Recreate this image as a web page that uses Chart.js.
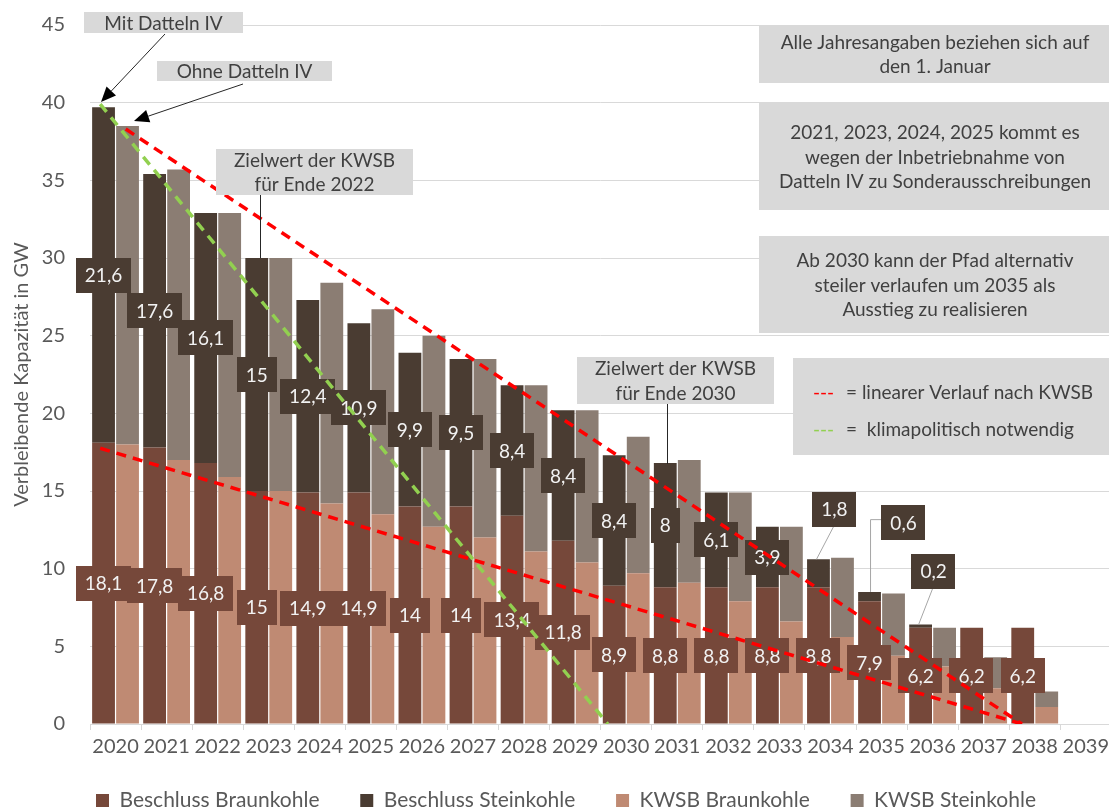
<!DOCTYPE html>
<html>
<head>
<meta charset="utf-8">
<script src="https://cdn.jsdelivr.net/npm/chart.js@4.4.1/dist/chart.umd.min.js"></script>
<style>
    html, body { margin: 0; padding: 0; background: #fff; overflow: hidden; }
    #wrap { position: relative; width: 1114px; height: 821px; }
</style>
</head>
<body>
<div id="wrap"><canvas id="chart"></canvas></div>
<script>
// Jahre (Stand jeweils 1. Januar)
var years = ['2020', '2021', '2022', '2023', '2024', '2025', '2026', '2027', '2028', '2029',
             '2030', '2031', '2032', '2033', '2034', '2035', '2036', '2037', '2038', '2039'];

// Kohleausstiegsgesetz (Beschluss), GW
var beschlussBraun = [18.1, 17.8, 16.8, 15, 14.9, 14.9, 14, 14, 13.4, 11.8,
                      8.9, 8.8, 8.8, 8.8, 8.8, 7.9, 6.2, 6.2, 6.2, 0];
var beschlussStein = [21.6, 17.6, 16.1, 15, 12.4, 10.9, 9.9, 9.5, 8.4, 8.4,
                      8.4, 8, 6.1, 3.9, 1.8, 0.6, 0.2, 0, 0, 0];

// Empfehlung der Kohlekommission (KWSB), GW
var kwsbBraun = [18.0, 17.0, 15.9, 15.0, 14.2, 13.5, 12.7, 12.0, 11.1, 10.4,
                 9.7, 9.1, 7.9, 6.6, 5.6, 4.4, 3.7, 2.3, 1.1, 0];
var kwsbStein = [20.5, 18.7, 17.0, 15.0, 14.2, 13.2, 12.3, 11.5, 10.7, 9.8,
                 8.8, 7.9, 7.0, 6.1, 5.1, 4.0, 2.5, 2.0, 1.0, 0];

// Pfade (Jahr, GW)
var kwsbPathTotal = [{x: 2020.2, y: 38.3}, {x: 2037.75, y: 0}];
var kwsbPathBraun = [{x: 2019.7, y: 17.75}, {x: 2037.75, y: 0}];
var climatePath = [{x: 2019.7, y: 39.9}, {x: 2029.64, y: 0}];

var labelBoxColor = ['#76483a', '#4a3c32'];
// Beschriftungen, die neben den Balken stehen (Index -> Versatz in px)
var callouts = {
    14: {dx: 16, dy: -64},
    15: {dx: 34, dy: -74, elbow: true},
    16: {dx: 13, dy: -55}
};

var notes = [
    {x: 84, y: 12, w: 159, h: 21, lines: ['Mit Datteln IV']},
    {x: 157, y: 61, w: 175, h: 20, lines: ['Ohne Datteln IV']},
    {x: 216, y: 149, w: 197, h: 46, lines: ['Zielwert der KWSB', 'für Ende 2022']},
    {x: 577, y: 357, w: 197, h: 47, lines: ['Zielwert der KWSB', 'für Ende 2030']},
    {x: 759, y: 25, w: 352, h: 58, lines: ['Alle Jahresangaben beziehen sich auf', 'den 1. Januar']},
    {x: 759, y: 103, w: 352, h: 107, lines: ['2021, 2023, 2024, 2025 kommt es', 'wegen der Inbetriebnahme von', 'Datteln IV zu Sonderausschreibungen']},
    {x: 759, y: 236, w: 352, h: 97, lines: ['Ab 2030 kann der Pfad alternativ', 'steiler verlaufen um 2035 als', 'Ausstieg zu realisieren']},
    {x: 793, y: 358, w: 320, h: 97, lines: []}
];

function fmt(v) {
    return String(v).replace('.', ',');
}

function drawBarLabels(chart) {
    var ctx = chart.ctx;
    ctx.save();
    ctx.font = '19px Lato';
    ctx.textAlign = 'center';
    ctx.textBaseline = 'middle';
    [0, 1].forEach(function (di) {
        var meta = chart.getDatasetMeta(di);
        var values = chart.data.datasets[di].data;
        meta.data.forEach(function (bar, i) {
            var v = values[i];
            if (!v) return;
            var cx = bar.x, cy = (bar.y + bar.base) / 2;
            var text = fmt(v);
            var w = ctx.measureText(text).width + 18, h = 35;
            var lx = cx, ly = cy;
            var c = di === 1 ? callouts[i] : null;
            if (c) {
                lx += c.dx;
                ly += c.dy;
                ctx.strokeStyle = '#a6a6a6';
                ctx.lineWidth = 1;
                ctx.beginPath();
                if (c.elbow) {
                    ctx.moveTo(lx - w / 2, ly - 3);
                    ctx.lineTo(cx + 1, ly - 3);
                    ctx.lineTo(cx + 1, bar.y);
                } else {
                    ctx.moveTo(lx - 1, ly + h / 2);
                    ctx.lineTo(cx - 2, bar.y);
                }
                ctx.stroke();
            }
            ctx.fillStyle = labelBoxColor[di];
            ctx.fillRect(Math.round(lx - w / 2), Math.round(ly - h / 2), Math.round(w), h);
            ctx.fillStyle = '#f2f2f2';
            ctx.fillText(text, lx, ly + 1);
        });
    });
    ctx.restore();
}

function arrow(ctx, x1, y1, x2, y2) {
    var a = Math.atan2(y2 - y1, x2 - x1);
    var len = 15, half = 6.5;
    var bx = x2 - len * Math.cos(a), by = y2 - len * Math.sin(a);
    ctx.beginPath();
    ctx.moveTo(x1, y1);
    ctx.lineTo(bx, by);
    ctx.stroke();
    ctx.beginPath();
    ctx.moveTo(x2, y2);
    ctx.lineTo(bx + half * Math.sin(a), by - half * Math.cos(a));
    ctx.lineTo(bx - half * Math.sin(a), by + half * Math.cos(a));
    ctx.closePath();
    ctx.fill();
}

var labelPlugin = {
    id: 'barLabels',
    beforeDatasetsDraw: function (chart) {
        chart.$labelsDrawn = false;
    },
    beforeDatasetDraw: function (chart, args) {
        // Beschriftungen nach den Balken, aber unter den Pfadlinien
        if (args.meta.type !== 'line' || chart.$labelsDrawn) return;
        chart.$labelsDrawn = true;
        drawBarLabels(chart);
    }
};

var notesPlugin = {
    id: 'notes',
    afterDraw: function (chart) {
        var ctx = chart.ctx;
        ctx.save();
        ctx.font = '19px Lato';
        ctx.textAlign = 'center';
        ctx.textBaseline = 'middle';
        notes.forEach(function (n) {
            ctx.fillStyle = '#d9d9d9';
            ctx.fillRect(n.x, n.y, n.w, n.h);
            ctx.fillStyle = '#404040';
            var lh = 24.5;
            var y0 = n.y + n.h / 2 + 1 - (n.lines.length - 1) * lh / 2;
            n.lines.forEach(function (t, k) {
                ctx.fillText(t, n.x + n.w / 2, y0 + k * lh);
            });
        });

        // Legende der Pfade
        ctx.textAlign = 'left';
        ctx.fillStyle = '#ff0000';
        ctx.fillText('---', 813, 393);
        ctx.fillStyle = '#92d050';
        ctx.fillText('---', 813, 430);
        ctx.fillStyle = '#404040';
        ctx.fillText('= linearer Verlauf nach KWSB', 846, 393);
        ctx.fillText('=  klimapolitisch notwendig', 846, 430);

        // Pfeile und Hinweislinien
        ctx.strokeStyle = '#262626';
        ctx.fillStyle = '#000';
        ctx.lineWidth = 1;
        arrow(ctx, 165, 34, 101, 102);
        arrow(ctx, 243, 84, 134, 121);
        ctx.beginPath();
        ctx.moveTo(260.5, 195);
        ctx.lineTo(260.5, 258);
        ctx.moveTo(667.5, 404);
        ctx.lineTo(667.5, 464);
        ctx.stroke();
        ctx.restore();
    }
};

Chart.defaults.font.family = 'Lato';
Chart.defaults.font.size = 20;
Chart.defaults.color = '#595959';

function pathLine(label, data, color) {
    return {
        type: 'line',
        label: label,
        data: data,
        yAxisID: 'yl',
        borderColor: color,
        borderWidth: 3.5,
        borderDash: [10, 7],
        pointRadius: 0,
        fill: false,
        order: 0
    };
}

function barSet(label, data, color, stack) {
    return {
        label: label,
        data: data,
        backgroundColor: color,
        borderWidth: 0,
        stack: stack,
        order: 1,
        categoryPercentage: 0.94,
        barPercentage: 0.95
    };
}

new Chart(document.getElementById('chart'), {
    type: 'bar',
    data: {
        labels: years,
        datasets: [
            barSet('Beschluss Braunkohle', beschlussBraun, '#76483a', 'beschluss'),
            barSet('Beschluss Steinkohle', beschlussStein, '#4a3c32', 'beschluss'),
            barSet('KWSB Braunkohle', kwsbBraun, '#bf8a73', 'kwsb'),
            barSet('KWSB Steinkohle', kwsbStein, '#8b7d73', 'kwsb'),
            pathLine('linearer Verlauf nach KWSB', kwsbPathTotal, '#ff0000'),
            pathLine('linearer Verlauf nach KWSB (Braunkohle)', kwsbPathBraun, '#ff0000'),
            pathLine('klimapolitisch notwendig', climatePath, '#92d050')
        ]
    },
    options: {
        responsive: true,
        maintainAspectRatio: false,
        animation: false,
        layout: { padding: { left: 18, top: 25, right: 0, bottom: 0 } },
        scales: {
            x: {
                type: 'linear',
                stacked: true,
                min: 2019.5,
                max: 2039.5,
                offset: false,
                grid: { drawOnChartArea: false, offset: true, color: '#d9d9d9', tickLength: 6 },
                border: { color: '#d9d9d9' },
                ticks: {
                    autoSkip: false,
                    maxRotation: 0,
                    padding: 5,
                    callback: function (v) { return String(v); }
                },
                afterBuildTicks: function (s) {
                    s.ticks = years.map(function (y) { return {value: Number(y)}; });
                },
                afterFit: function (s) { s.height = 36; }
            },
            y: {
                stacked: true,
                min: 0,
                max: 45,
                ticks: { stepSize: 5, padding: 25 },
                grid: { color: '#d9d9d9', drawTicks: false },
                border: { display: false },
                title: {
                    display: true,
                    text: 'Verbleibende Kapazität in GW',
                    font: { size: 20 },
                    padding: { top: -8, bottom: 0 }
                },
                afterFit: function (s) {
                    s.width = 72;
                    s.paddingTop = 12;
                    s.paddingBottom = 12;
                }
            },
            yl: { type: 'linear', display: false, min: 0, max: 45 }
        },
        plugins: {
            legend: {
                position: 'bottom',
                labels: {
                    filter: function (item) { return item.datasetIndex < 4; },
                    generateLabels: function (chart) {
                        var items = Chart.defaults.plugins.legend.labels.generateLabels(chart);
                        items.forEach(function (it) {
                            if (it.datasetIndex < 3) it.text += '\u00a0\u00a0';
                        });
                        return items;
                    },
                    font: { size: 21 },
                    boxWidth: 13,
                    boxHeight: 13,
                    padding: 30
                }
            },
            tooltip: { enabled: false }
        }
    },
    plugins: [labelPlugin, notesPlugin]
});
</script>
</body>
</html>
